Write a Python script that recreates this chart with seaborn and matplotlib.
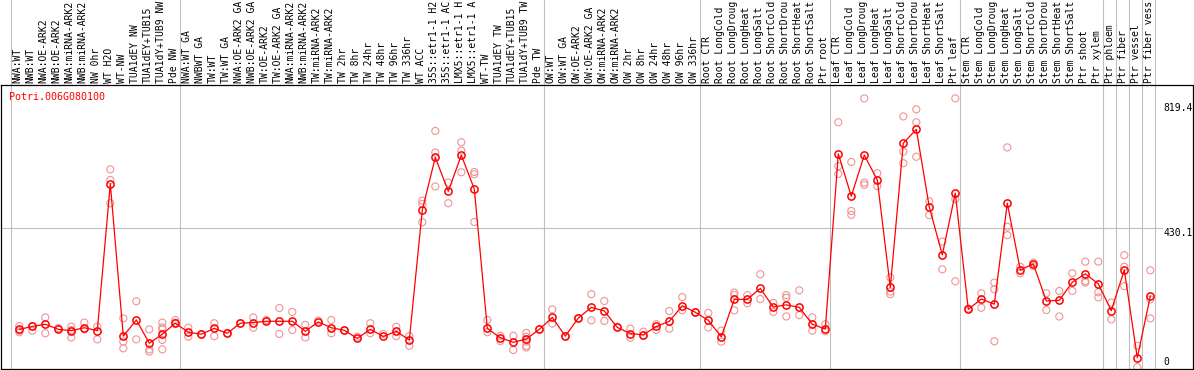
import numpy as np
import pandas as pd
import matplotlib
matplotlib.use("Agg")
import matplotlib.pyplot as plt
import seaborn as sns

gene = "Potri.006G080100"

samples = [
    "NWA:WT", "NWB:WT", "NWA:OE-ARK2", "NWB:OE-ARK2", "NWA:miRNA-ARK2", "NWB:miRNA-ARK2",
    "NW 0hr", "WT H2O", "WT-NW", "TUA1dEY NW", "TUA1dEY+TUB15", "TUA1dY+TUB9 NW", "Pde NW",
    "NWA:WT GA", "NWBWT GA", "TW:WT", "TW:WT GA", "NWA:OE-ARK2 GA", "NWB:OE-ARK2 GA",
    "TW:OE-ARK2", "TW:OE-ARK2 GA", "NWA:miRNA-ARK2", "NWB:miRNA-ARK2", "TW:miRNA-ARK2",
    "TW:miRNA-ARK2", "TW 2hr", "TW 8hr", "TW 24hr", "TW 48hr", "TW 96hr", "TW 336hr",
    "WT ACC", "35S::etr1-1 H2", "35S::etr1-1 AC", "LMX5::etr1-1 H", "LMX5::etr1-1 A",
    "WT-TW", "TUA1dEY TW", "TUA1dEY+TUB15", "TUA1dY+TUB9 TW", "Pde TW",
    "OW:WT", "OW:WT GA", "OW:OE-ARK2", "OW:OE-ARK2 GA", "OW:miRNA-ARK2", "OW:miRNA-ARK2",
    "OW 2hr", "OW 8hr", "OW 24hr", "OW 48hr", "OW 96hr", "OW 336hr",
    "Root CTR", "Root LongCold", "Root LongDroug", "Root LongHeat", "Root LongSalt",
    "Root ShortCold", "Root ShortDrou", "Root ShortHeat", "Root ShortSalt", "Ptr root",
    "Leaf CTR", "Leaf LongCold", "Leaf LongDroug", "Leaf LongHeat", "Leaf LongSalt",
    "Leaf ShortCold", "Leaf ShortDrou", "Leaf ShortHeat", "Leaf ShortSalt", "Ptr leaf",
    "Stem CTR", "Stem LongCold", "Stem LongDroug", "Stem LongHeat", "Stem LongSalt",
    "Stem ShortCold", "Stem ShortDrou", "Stem ShortHeat", "Stem ShortSalt", "Ptr shoot",
    "Ptr xylem", "Ptr phloem", "Ptr fiber", "Ptr vessel", "Ptr fiber vess",
]

means = [
    117, 126, 133, 117, 113, 122, 113, 568, 96, 146, 74, 102, 136,
    108, 102, 120, 105, 136, 138, 142, 142, 142, 111, 140, 122, 114, 89, 117, 95, 111, 84,
    487, 650, 545, 657, 552, 120, 91, 77, 87, 117,
    154, 96, 152, 185, 174, 123, 104, 100, 126, 142, 190, 170,
    145, 94, 210, 210, 244, 186, 193, 185, 133, 118,
    661, 530, 657, 580, 247, 694, 737, 496, 348, 539,
    179, 211, 195, 508, 301, 320, 205, 207, 263, 289,
    258, 175, 301, 29, 220,
]

replicates = [
    [127, 113, 108], [127, 113], [154, 105], [121], [125, 115, 92], [138, 117],
    [125, 86], [613, 580, 508], [151, 79, 58], [204, 86], [117, 55, 48],
    [138, 123, 117, 84, 55], [146, 138],
    [122, 94], [102], [136, 96], [105], [136], [154, 122], [146], [183, 103],
    [171, 115], [131, 92], [144], [146, 105], [114], [94], [136, 105], [103],
    [125, 96], [96, 66],
    [516, 506, 449], [732, 665, 560], [572, 508], [697, 671, 604], [605, 598, 450],
    [146, 108], [97, 81], [97, 53], [106, 94, 79, 66, 61], [117],
    [179, 135], [96], [152], [226, 145], [205, 143], [125], [119, 91], [110, 97],
    [133, 115], [174, 119], [217, 176], [170],
    [168, 123], [113, 79], [231, 224, 176], [223, 198], [288, 211], [199, 171],
    [223, 215, 157], [238, 161], [154, 113], [133, 111],
    [759, 623, 599], [636, 484, 472], [833, 572, 565], [601, 561], [278, 234, 226],
    [777, 668, 632], [799, 759, 652], [514, 471], [389, 303], [833, 521, 266],
    [182], [229, 184], [262, 241, 80], [681, 435, 409], [311, 291], [324, 313],
    [229, 177], [236, 157], [291, 236], [327, 267, 262],
    [327, 232, 216], [200, 148], [347, 311, 251], [66, 0], [300, 210, 151],
]

group_ends = [-1, 12, 40, 52, 62, 72, 83, 84, 85, 86, 87]
y_ticks = [0, 430.1, 819.4]
y_tick_labels = ["0", "430.1", "819.4"]

# ---- data frames ----
pos = np.arange(len(samples))
df_mean = pd.DataFrame({"pos": pos, "sample": samples, "value": means})
rows = []
for i, reps in enumerate(replicates):
    for v in reps:
        rows.append((i, samples[i], v))
df_rep = pd.DataFrame(rows, columns=["pos", "sample", "value"])

# ---- figure ----
sns.set_theme(style="white")
plt.rcParams["font.family"] = ["DejaVu Sans Mono", "DejaVu Sans"]

W, H = 1194, 370
fig = plt.figure(figsize=(W / 100, H / 100), dpi=100)
ax_top_px, ax_bot_px = 85, 369
ax = fig.add_axes([1 / W, (H - ax_bot_px) / H, 1192 / W, (ax_bot_px - ax_top_px) / H])

x0_px, step = 19.3, 13.0
ax.set_xlim((1 - x0_px) / step, (1193 - x0_px) / step)
y0_px, k = 367.1, 0.3226
ax.set_ylim((y0_px - ax_bot_px) / k, (y0_px - ax_top_px) / k)

red = "#ff0000"
light = "#f09494"
grey = "#c0c0c0"

# group separators, extending through the label area
ymax_ext = ax_bot_px / (ax_bot_px - ax_top_px)
for b in group_ends:
    ax.axvline(b + 0.385, ymin=0, ymax=ymax_ext, color=grey, lw=0.8, clip_on=False, zorder=0)

# horizontal grid line at middle tick
ax.axhline(y_ticks[1], xmin=0, xmax=(1162 - 1) / 1192, color=grey, lw=0.8, zorder=0)

sns.scatterplot(data=df_rep, x="pos", y="value", ax=ax, marker="o", s=26,
                facecolor="none", edgecolor=light, linewidth=0.8, legend=False, zorder=2)
sns.lineplot(data=df_mean, x="pos", y="value", ax=ax, color=red, lw=0.9,
             marker="o", markersize=5.2, markerfacecolor="none",
             markeredgecolor=red, markeredgewidth=1.1, legend=False, zorder=3)

ax.set_xlabel("")
ax.set_ylabel("")
ax.set_xticks([])
ax.set_yticks([])
for sp in ax.spines.values():
    sp.set_color("black")
    sp.set_linewidth(0.9)
    sp.set_visible(True)

# top sample labels
for i, s in enumerate(samples):
    ax.annotate(s, xy=(i - 0.12, H - 83), xycoords=("data", "figure pixels"),
                rotation=90, ha="center", va="bottom", fontsize=7, color="black",
                annotation_clip=False)

# gene name
ax.annotate(gene, xy=(9, H - 96.7), xycoords="figure pixels", ha="left", va="center",
            fontsize=7.2, color=red)

# y tick labels on the right, inside the plot
for v, lbl in zip(y_ticks, y_tick_labels):
    ax.annotate(lbl, xy=(1163, v), xycoords=("figure pixels", "data"), ha="left",
                va="bottom" if v == 0 else "top", fontsize=7, color="black",
                annotation_clip=False)

fig.savefig("out.png", dpi=100)
